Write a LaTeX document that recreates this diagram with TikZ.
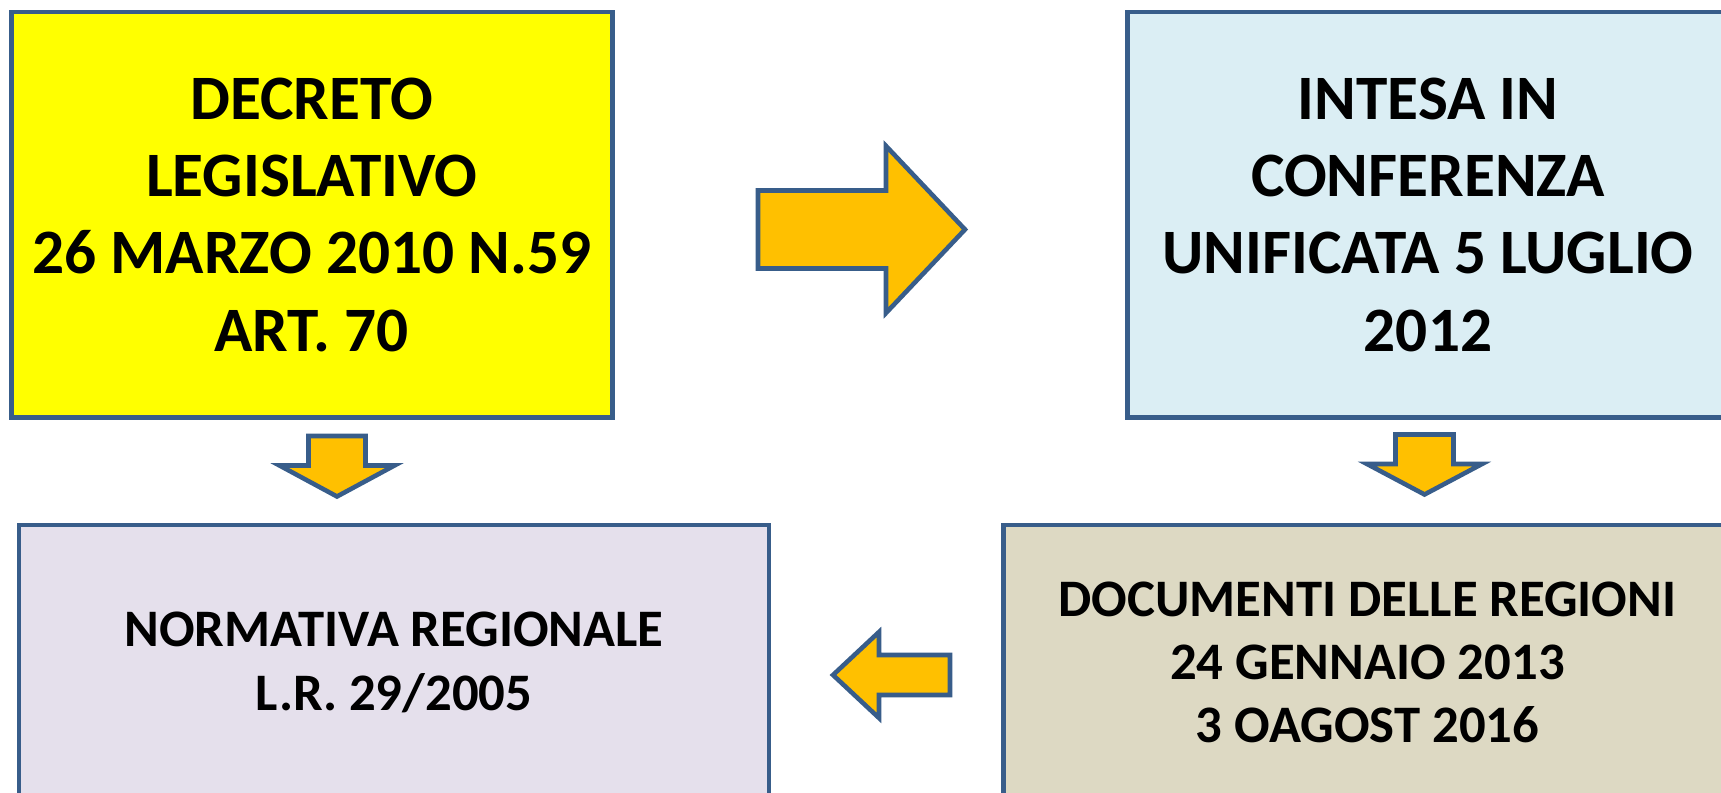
\documentclass[tikz,border=0pt]{standalone}
\usepackage{fontspec}
\setmainfont{Carlito}
\definecolor{boxblue}{RGB}{56, 93, 138}
\definecolor{decyellow}{RGB}{255, 255, 0}
\definecolor{intblue}{RGB}{219, 238, 244}
\definecolor{normlilac}{RGB}{229, 224, 236}
\definecolor{doctan}{RGB}{221, 217, 195}
\definecolor{arrgold}{RGB}{255, 192, 0}
\usepackage{tikz}
\usetikzlibrary{positioning, calc}

\tikzset{
  topbox/.style={draw=boxblue, line width=2.8pt, align=center, inner sep=0pt,
    minimum width=12.02cm, minimum height=8.11cm,
    font=\bfseries\fontsize{36}{44}\selectfont},
  lowbox/.style={draw=boxblue, line width=2.8pt, align=center, inner sep=0pt,
    minimum height=5.5cm, font=\bfseries\fontsize{30}{36}\selectfont},
  blockarrow/.style={draw=boxblue, fill=arrgold, line width=2.6pt, line join=miter}
}

\begin{document}
\begin{tikzpicture}
  \path[use as bounding box, fill=white] (0, 0) rectangle (34.42, 15.86);
  \clip (0, 0) rectangle (34.42, 15.86);

  % upper row
  \node[topbox, fill=decyellow] (decreto) at (6.235, 11.565) {DECRETO\\LEGISLATIVO\\26 MARZO 2010 N.59\\ART. 70};
  \node[topbox, fill=intblue] (intesa) at (28.56, 11.565) {INTESA IN\\CONFERENZA\\UNIFICATA 5 LUGLIO\\2012};

  % lower row
  \node[lowbox, fill=normlilac, minimum width=15.0cm] (normativa) at (7.88, 2.61) {NORMATIVA REGIONALE\\L.R. 29/2005};
  \node[lowbox, fill=doctan, minimum width=14.56cm] (documenti) at (27.35, 2.61) {DOCUMENTI DELLE REGIONI\\24 GENNAIO 2013\\3 OAGOST 2016};

  % block arrows
  \coordinate (rightarr) at (15.16, 11.27);
  \draw[blockarrow] (rightarr) ++(0, 0.78) -- ++(2.56, 0) -- ++(0, 0.89) -- ++(1.58, -1.67)
    -- ++(-1.58, -1.67) -- ++(0, 0.89) -- ++(-2.56, 0) -- cycle;

  \coordinate (downleft) at (6.74, 7.14);
  \draw[blockarrow] (downleft) ++(-0.57, 0) -- ++(1.14, 0) -- ++(0, -0.59) -- ++(0.58, 0)
    -- ++(-1.15, -0.62) -- ++(-1.15, 0.62) -- ++(0.58, 0) -- cycle;

  \coordinate (downright) at (28.49, 7.17);
  \draw[blockarrow] (downright) ++(-0.58, 0) -- ++(1.16, 0) -- ++(0, -0.59) -- ++(0.57, 0)
    -- ++(-1.15, -0.61) -- ++(-1.15, 0.61) -- ++(0.57, 0) -- cycle;

  \coordinate (leftarr) at (19.0, 2.36);
  \draw[blockarrow] (leftarr) ++(0, 0.40) -- ++(-1.42, 0) -- ++(0, 0.46) -- ++(-0.92, -0.86)
    -- ++(0.92, -0.86) -- ++(0, 0.46) -- ++(1.42, 0) -- cycle;
\end{tikzpicture}
\end{document}
